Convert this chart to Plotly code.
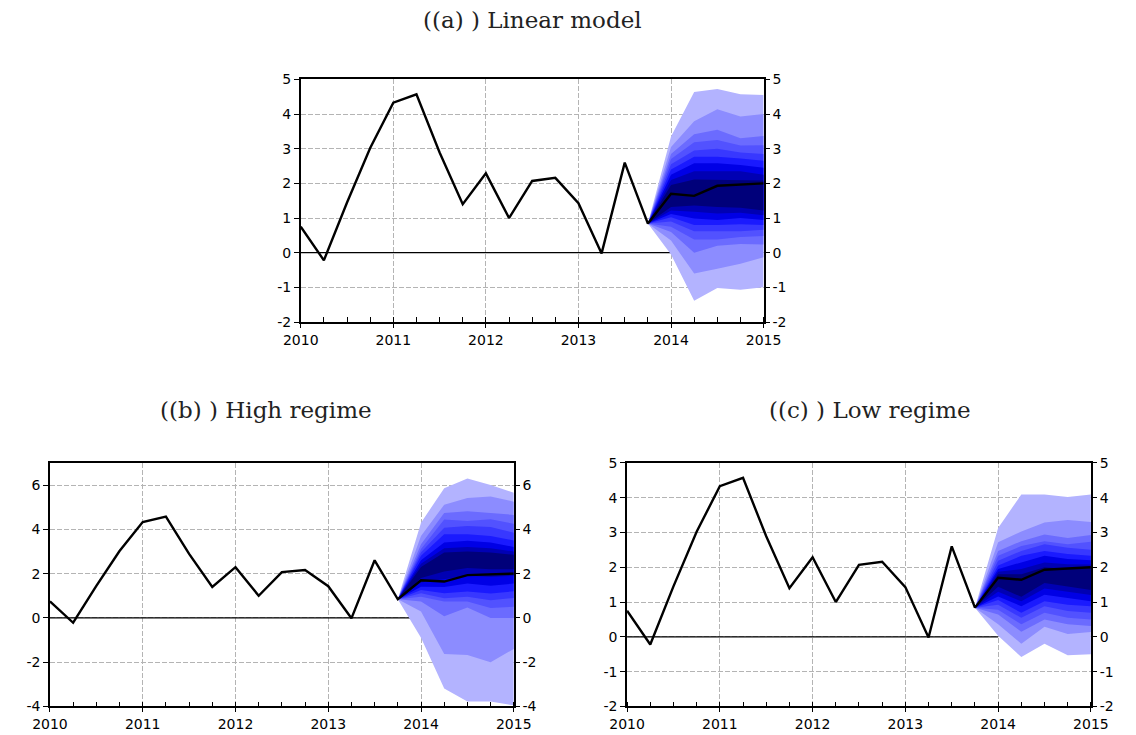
import plotly.graph_objects as go

# ---------------- data ----------------
hist_x = [2010.0, 2010.25, 2010.5, 2010.75, 2011.0, 2011.25, 2011.5, 2011.75,
          2012.0, 2012.25, 2012.5, 2012.75, 2013.0, 2013.25, 2013.5, 2013.75]
hist_y = [0.75, -0.22, 1.45, 3.02, 4.33, 4.57, 2.89, 1.40,
          2.29, 1.00, 2.07, 2.16, 1.43, -0.02, 2.60, 0.84]

fc_x = [2014.0, 2014.25, 2014.5, 2014.75, 2015.0]
fc_median = [1.70, 1.64, 1.93, 1.97, 2.00]

year_ticks = [2010, 2011, 2012, 2013, 2014, 2015]
year_labels = ["2010", "2011", "2012", "2013", "2014", "2015"]

a_yticks = [-2, -1, 0, 1, 2, 3, 4, 5]
a_ylabels = ["-2", "-1", "0", "1", "2", "3", "4", "5"]
b_yticks = [-4, -2, 0, 2, 4, 6]
b_ylabels = ["-4", "-2", "0", "2", "4", "6"]
c_yticks = [-2, -1, 0, 1, 2, 3, 4, 5]
c_ylabels = ["-2", "-1", "0", "1", "2", "3", "4", "5"]

# fan band edges: one row per forecast quarter, columns = bands from outer to inner
a_upper = [
    [3.35, 3.05, 2.85, 2.70, 2.55, 2.40, 2.25, 2.10, 1.95],
    [4.64, 3.79, 3.42, 3.19, 2.95, 2.77, 2.58, 2.35, 2.11],
    [4.72, 4.14, 3.55, 3.25, 3.00, 2.77, 2.58, 2.35, 2.10],
    [4.57, 3.93, 3.30, 3.09, 2.89, 2.72, 2.53, 2.35, 2.11],
    [4.55, 4.00, 3.37, 3.10, 2.85, 2.65, 2.45, 2.25, 2.08],
]
a_lower = [
    [-0.05, 0.35, 0.60, 0.75, 0.90, 1.02, 1.12, 1.22, 1.32],
    [-1.39, -0.60, 0.00, 0.38, 0.62, 0.80, 0.99, 1.18, 1.36],
    [-1.02, -0.46, 0.20, 0.38, 0.62, 0.80, 0.94, 1.13, 1.32],
    [-1.07, -0.32, 0.25, 0.45, 0.62, 0.82, 1.00, 1.15, 1.30],
    [-1.00, -0.13, 0.24, 0.48, 0.66, 0.80, 0.94, 1.08, 1.22],
]
b_upper = [
    [4.30, 3.70, 3.33, 3.11, 2.96, 2.81, 2.60, 2.45, 2.30],
    [5.85, 5.11, 4.74, 4.44, 4.07, 3.78, 3.41, 3.15, 2.95],
    [6.30, 5.41, 4.81, 4.37, 4.15, 3.78, 3.48, 3.20, 3.00],
    [6.00, 5.48, 4.74, 4.45, 4.10, 3.70, 3.41, 3.15, 2.95],
    [5.65, 5.25, 4.65, 4.25, 3.85, 3.50, 3.20, 3.00, 2.85],
]
b_lower = [
    [-0.90, 0.29, 0.74, 0.96, 1.11, 1.26, 1.41, 1.60, 1.80],
    [-3.19, -1.63, 0.07, 0.74, 0.89, 1.11, 1.40, 1.75, 2.10],
    [-3.78, -1.68, 0.47, 0.74, 0.96, 1.19, 1.55, 1.90, 2.25],
    [-3.78, -2.00, 0.00, 0.45, 0.80, 1.10, 1.45, 1.85, 2.20],
    [-3.95, -1.40, 0.00, 0.50, 0.90, 1.20, 1.55, 1.90, 2.20],
]
c_upper = [
    [3.13, 2.72, 2.47, 2.33, 2.19, 2.05, 1.95, 1.87, 1.80],
    [4.09, 3.03, 2.75, 2.61, 2.47, 2.33, 2.14, 1.95, 1.80],
    [4.09, 3.29, 2.94, 2.75, 2.66, 2.47, 2.33, 2.14, 2.00],
    [4.02, 3.36, 2.84, 2.66, 2.56, 2.38, 2.24, 2.09, 1.95],
    [4.09, 3.30, 2.93, 2.73, 2.50, 2.33, 2.20, 2.08, 1.98],
]
c_lower = [
    [0.03, 0.36, 0.64, 0.78, 0.92, 1.06, 1.16, 1.30, 1.44],
    [-0.58, -0.20, 0.15, 0.36, 0.55, 0.69, 0.88, 1.02, 1.15],
    [-0.20, 0.29, 0.50, 0.69, 0.88, 1.02, 1.21, 1.39, 1.55],
    [-0.53, 0.08, 0.36, 0.55, 0.74, 0.92, 1.11, 1.30, 1.45],
    [-0.50, 0.14, 0.31, 0.50, 0.69, 0.88, 1.02, 1.20, 1.35],
]

band_colors = ["#b3b3ff", "#8c8cff", "#6b6bff", "#5252ff", "#3838ff",
               "#1a1aff", "#0000e6", "#0000b3", "#00007a"]

titles = ["((a) ) Linear model", "((b) ) High regime", "((c) ) Low regime"]

# ---------------- figure ----------------
W, H = 1136, 735
fig = go.Figure()

panels = [
    dict(xa="x", ya="y", yr="y4", upper=a_upper, lower=a_lower,
         yrange=[-2, 5], yt=a_yticks, yl=a_ylabels,
         xdom=[292 / W, 770 / W], ydom=[1 - 321 / H, 1 - 73 / H]),
    dict(xa="x2", ya="y2", yr="y5", upper=b_upper, lower=b_lower,
         yrange=[-4, 7], yt=b_yticks, yl=b_ylabels,
         xdom=[33 / W, 512 / W], ydom=[1 - 714 / H, 1 - 465 / H]),
    dict(xa="x3", ya="y3", yr="y6", upper=c_upper, lower=c_lower,
         yrange=[-2, 5], yt=c_yticks, yl=c_ylabels,
         xdom=[629 / W, 1108 / W], ydom=[1 - 714 / H, 1 - 465 / H]),
]

tickfont = dict(family="DejaVu Sans", size=14, color="black")
grid = dict(showgrid=True, gridcolor="#b4b4b4", gridwidth=1, griddash="5px,2px")

origin_x = hist_x[-1]
origin_y = hist_y[-1]

for i, p in enumerate(panels):
    bands_up = list(zip(*p["upper"]))
    bands_lo = list(zip(*p["lower"]))
    # zero line up to forecast start
    fig.add_trace(go.Scatter(x=[hist_x[0], fc_x[0]], y=[0, 0], mode="lines",
                             line=dict(color="black", width=1.3),
                             xaxis=p["xa"], yaxis=p["ya"], hoverinfo="skip"))
    for k in range(len(band_colors)):
        up = list(bands_up[k])
        lo = list(bands_lo[k])
        xs = [origin_x] + fc_x + fc_x[::-1] + [origin_x]
        ys = [origin_y] + up + lo[::-1] + [origin_y]
        fig.add_trace(go.Scatter(x=xs, y=ys, mode="lines", fill="toself",
                                 fillcolor=band_colors[k], line=dict(width=0),
                                 xaxis=p["xa"], yaxis=p["ya"], hoverinfo="skip"))
    fig.add_trace(go.Scatter(x=hist_x + fc_x, y=hist_y + fc_median, mode="lines",
                             line=dict(color="black", width=2.4),
                             xaxis=p["xa"], yaxis=p["ya"]))
    # invisible trace to activate right axis
    fig.add_trace(go.Scatter(x=[hist_x[0]], y=[0], mode="markers",
                             marker=dict(opacity=0), xaxis=p["xa"], yaxis=p["yr"],
                             hoverinfo="skip"))

    xkey = "xaxis" if p["xa"] == "x" else "xaxis" + p["xa"][1:]
    ykey = "yaxis" if p["ya"] == "y" else "yaxis" + p["ya"][1:]
    rkey = "yaxis" + p["yr"][1:]
    fig.layout[xkey] = dict(
        domain=p["xdom"], anchor=p["ya"], range=[2010, 2015],
        tickmode="array", tickvals=year_ticks, ticktext=year_labels,
        ticks="outside", ticklen=4, tickcolor="black", tickwidth=1,
        showline=True, linecolor="black", linewidth=1.5, mirror=True,
        zeroline=False, tickfont=tickfont,
        minor=dict(dtick=0.25, tick0=2010, ticks="inside", ticklen=5,
                   tickcolor="black", tickwidth=1.2, showgrid=False),
        **grid)
    fig.layout[ykey] = dict(
        domain=p["ydom"], anchor=p["xa"], range=p["yrange"],
        tickmode="array", tickvals=p["yt"], ticktext=p["yl"],
        ticks="outside", ticklen=5, tickcolor="black", tickwidth=1,
        showline=True, linecolor="black", linewidth=1.5, mirror=True,
        zeroline=False, tickfont=tickfont, **grid)
    fig.layout[rkey] = dict(
        overlaying=p["ya"], anchor=p["xa"], side="right", range=p["yrange"],
        tickmode="array", tickvals=p["yt"], ticktext=p["yl"],
        ticks="outside", ticklen=5, tickcolor="black", tickwidth=1,
        showline=False, showgrid=False, zeroline=False, tickfont=tickfont)

title_pos = [(531, 12), (256, 411), (880, 411)]
for t, (tx, ty) in zip(titles, title_pos):
    fig.add_annotation(text=t, x=tx / W, y=1 - ty / H, xref="paper", yref="paper",
                       showarrow=False, xanchor="center", yanchor="middle",
                       font=dict(family="DejaVu Serif", size=23, color="#222222"))

fig.update_layout(width=W, height=H, margin=dict(l=0, r=0, t=0, b=0),
                  plot_bgcolor="white", paper_bgcolor="white", showlegend=False)

fig.write_html("out.html")
